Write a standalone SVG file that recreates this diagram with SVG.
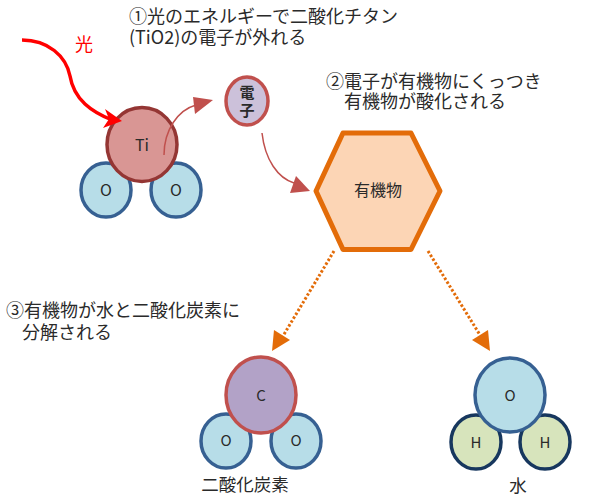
<svg xmlns="http://www.w3.org/2000/svg" width="594" height="500" viewBox="0 0 594 500">
<style>
text{font-family:"Noto Sans CJK JP","Noto Sans",sans-serif;fill:#2a2a2a}
.cap{font-size:18px}
.lab{font-size:15px;text-anchor:middle}
.ti{fill:#d99694;stroke:#943634;stroke-width:3.5}
.ox{fill:#b7dde8;stroke:#366092;stroke-width:3.5}
.hy{fill:#d7e4bc;stroke:#17375e;stroke-width:3.5}
.ca{fill:#b2a2c7;stroke:#c0504d;stroke-width:3.5}
.thin{fill:none;stroke:#c0504d;stroke-width:1.5}
.dot{fill:none;stroke:#e36c09;stroke-width:3;stroke-dasharray:2.5 2}
</style>
<rect width="594" height="500" fill="#fff"/>
<g id="molecule-tio2">
<ellipse class="ox" cx="106" cy="190" rx="25" ry="27"/><text class="lab" x="106" y="196" style="font-size:16px">O</text>
<ellipse class="ox" cx="176" cy="190" rx="25" ry="27"/><text class="lab" x="176" y="196" style="font-size:16px">O</text>
<ellipse class="ti" cx="142" cy="144.500" rx="35" ry="37"/><text class="lab" x="142" y="151" style="font-size:16px">Ti</text>
</g>
<g id="electron">
<ellipse cx="247" cy="101" rx="21" ry="24" fill="#ccc1da" stroke="#c0504d" stroke-width="3.500"/>
<text class="lab" style="font-weight:700;font-size:15px"><tspan x="247" y="98">電</tspan><tspan x="247" y="116">子</tspan></text>
</g>
<g id="organic">
<polygon points="316,191 343,133 411,133 440,191 411,249.500 343,249.500" fill="#fcd5b5" stroke="#e36c09" stroke-width="5" stroke-linejoin="round"/>
<text class="lab" x="378" y="196" style="font-size:16px">有機物</text>
</g>
<g id="molecule-co2">
<ellipse class="ox" cx="226" cy="441" rx="25" ry="27"/><text class="lab" x="226" y="446">O</text>
<ellipse class="ox" cx="296" cy="441" rx="25" ry="27"/><text class="lab" x="296" y="446">O</text>
<ellipse class="ca" cx="261" cy="395" rx="35" ry="38"/><text class="lab" x="261" y="401">C</text>
<text class="lab" x="245" y="491" style="font-size:17.500px">二酸化炭素</text>
</g>
<g id="molecule-h2o">
<ellipse class="hy" cx="476" cy="442" rx="25" ry="27"/><text class="lab" x="476" y="448">H</text>
<ellipse class="hy" cx="545" cy="442" rx="25" ry="27"/><text class="lab" x="545" y="448">H</text>
<ellipse class="ox" cx="510" cy="395" rx="35" ry="37"/><text class="lab" x="510" y="401">O</text>
<text class="lab" x="518" y="492" style="font-size:17.500px">水</text>
</g>
<g id="connectors">
<path d="M22 40C48 40 66 56 70 76C74 100 92 112 112 120" fill="none" stroke="#f00" stroke-width="3.500"/>
<polygon points="122,121 103,128 109,119 105,109" fill="#f00"/>
<path class="thin" d="M164 155C164 130 178 110 196 105"/>
<polygon points="213,100 195,114 193,97" fill="#c0504d"/>
<path class="thin" d="M262 133C265 160 278 178 294 183"/>
<polygon points="310,191 290,193 296,176" fill="#c0504d"/>
<path class="dot" d="M334 251L283 336"/>
<polygon points="272,351 274,330 290,340" fill="#e36c09"/>
<path class="dot" d="M428 251L480 335"/>
<polygon points="490,351 472,340 488,330" fill="#e36c09"/>
</g>
<g id="labels">
<text x="75" y="51" style="font-size:18px;fill:#f00">光</text>
<text class="cap"><tspan x="129" y="23">①光のエネルギーで二酸化チタン</tspan><tspan x="129" y="44">(TiO2)の電子が外れる</tspan></text>
<text class="cap"><tspan x="326" y="87.500">②電子が有機物にくっつき</tspan><tspan x="344" y="108">有機物が酸化される</tspan></text>
<text class="cap"><tspan x="6" y="317">③有機物が水と二酸化炭素に</tspan><tspan x="22" y="339">分解される</tspan></text>
</g>
</svg>
